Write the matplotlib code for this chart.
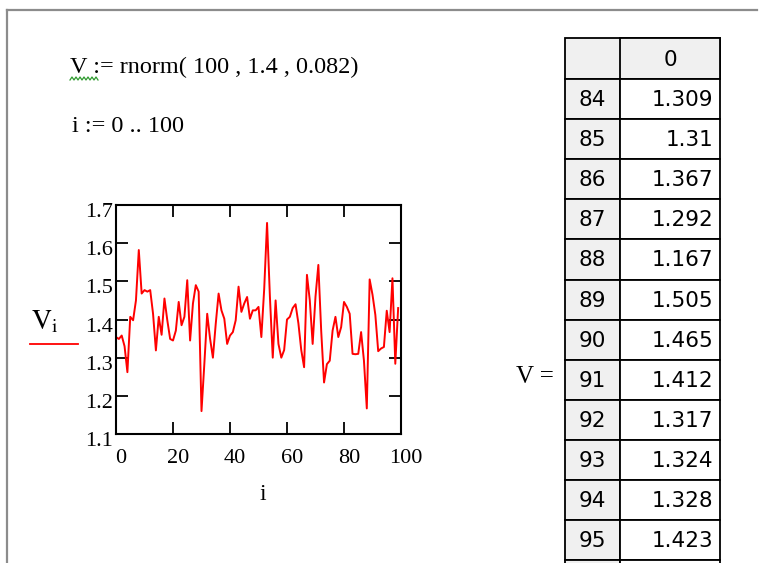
import matplotlib
matplotlib.use("Agg")
import matplotlib.pyplot as plt
import matplotlib.transforms as mtransforms
from matplotlib.patches import Rectangle

# values (rows 84..95 taken from the table)
V = [1.354, 1.349, 1.358, 1.330, 1.262, 1.407, 1.398, 1.450, 1.582, 1.468,
     1.477, 1.473, 1.477, 1.415, 1.319, 1.407, 1.360, 1.455, 1.398, 1.349,
     1.345, 1.371, 1.446, 1.385, 1.407, 1.503, 1.345, 1.442, 1.490, 1.473,
     1.160, 1.284, 1.415, 1.350, 1.300, 1.389, 1.468, 1.424, 1.402, 1.336,
     1.358, 1.367, 1.398, 1.486, 1.420, 1.442, 1.459, 1.402, 1.424, 1.424,
     1.433, 1.354, 1.480, 1.653, 1.460, 1.300, 1.450, 1.336, 1.300, 1.320,
     1.400, 1.407, 1.430, 1.440, 1.390, 1.320, 1.275, 1.517, 1.450, 1.336,
     1.460, 1.543, 1.370, 1.235, 1.283, 1.292, 1.371, 1.407, 1.354, 1.380,
     1.446, 1.433, 1.415, 1.310, 1.309, 1.310, 1.367, 1.292, 1.167, 1.505,
     1.465, 1.412, 1.317, 1.324, 1.328, 1.423, 1.367, 1.508, 1.284, 1.430]
idx = list(range(len(V)))

x_ticks = [0, 20, 40, 60, 80, 100]
y_ticks = [1.1, 1.2, 1.3, 1.4, 1.5, 1.6, 1.7]
y_tick_labels = ["1.1", "1.2", "1.3", "1.4", "1.5", "1.6", "1.7"]
table_rows = list(range(84, 96))

plt.rcParams["mathtext.fontset"] = "stix"
serif = "Liberation Serif"

W, H = 764, 563
fig = plt.figure(figsize=(W / 100, H / 100), dpi=100)

# page overlay in pixel coordinates (worksheet frame, text regions, table)
page = fig.add_axes([0, 0, 1, 1], zorder=0)
page.set_xlim(0, W)
page.set_ylim(H, 0)
page.axis("off")

page.plot([7, 7], [10, H], color="#8c8c8c", lw=1.6)
page.plot([7, 757], [10, 10], color="#8c8c8c", lw=1.6)

page.text(70, 67, "V := rnorm( 100 , 1.4 , 0.082)", family=serif, fontsize=17.5,
          va="center", ha="left")
# green squiggle under V
sx = [70 + k * 2.0 for k in range(15)]
sy = [80 if k % 2 == 0 else 77 for k in range(15)]
page.plot(sx, sy, color="#2e9a2e", lw=0.9)
page.text(72, 127, "i := 0 .. 100", family=serif, fontsize=17.5, va="center", ha="left")

# y label with trace marker
page.text(45, 321, r"$\mathrm{V_i}$", fontsize=20, va="center", ha="center")
page.plot([30, 78], [344, 344], color="red", lw=1.3)

# table
page.text(535, 377, "V =", family=serif, fontsize=18, va="center", ha="center")
tx0, tx1, tx2 = 565, 620, 720
top, head_h, row_h = 38, 41, 40.1
page.add_patch(Rectangle((tx0, top), tx2 - tx0, head_h, facecolor="#f0f0f0",
                         edgecolor="black", lw=1.3))
page.add_patch(Rectangle((tx1, top), tx2 - tx1, head_h, facecolor="#f0f0f0",
                         edgecolor="black", lw=1.3))
page.text((tx1 + tx2) / 2, top + head_h / 2 + 1, "0", fontsize=15.5, va="center", ha="center")
for k, r in enumerate(table_rows + [96]):
    y0 = top + head_h + k * row_h
    page.add_patch(Rectangle((tx0, y0), tx1 - tx0, row_h, facecolor="#f0f0f0",
                             edgecolor="black", lw=1.3))
    page.add_patch(Rectangle((tx1, y0), tx2 - tx1, row_h, facecolor="white",
                             edgecolor="black", lw=1.3))
    if r in table_rows:
        val = ("%.3f" % V[r]).rstrip("0")
        page.text((tx0 + tx1) / 2, y0 + row_h / 2 + 1, str(r), fontsize=15.5,
                  va="center", ha="center")
        page.text(tx2 - 7, y0 + row_h / 2 + 1, val, fontsize=15.5,
                  va="center", ha="right")

# the x-y plot
left, right, ptop, pbot = 116, 401, 205, 434
ax = fig.add_axes([left / W, 1 - pbot / H, (right - left) / W, (pbot - ptop) / H], zorder=2)
ax.plot(idx, V, color="red", lw=1.4)
ax.set_xlim(0, 100)
ax.set_ylim(1.1, 1.7)
ax.set_xticks(x_ticks)
ax.set_yticks(y_ticks)
ax.set_yticklabels(y_tick_labels)
ax.tick_params(direction="in", length=8.5, width=1.3, top=True, right=True,
               labelsize=16)
ax.tick_params(axis="y", pad=2)
ax.tick_params(axis="x", pad=11)
xoff = mtransforms.ScaledTranslation(5 / 100, 0, fig.dpi_scale_trans)
yoff = mtransforms.ScaledTranslation(0, -5 / 100, fig.dpi_scale_trans)
for lab in ax.get_xticklabels():
    lab.set_family(serif)
    lab.set_transform(lab.get_transform() + xoff)
for lab in ax.get_yticklabels():
    lab.set_family(serif)
    lab.set_transform(lab.get_transform() + yoff)
for s in ax.spines.values():
    s.set_linewidth(1.5)
ax.set_xlabel("i", family=serif, fontsize=17)
ax.xaxis.set_label_coords(0.5 + 4 / (right - left), -(495 - pbot) / (pbot - ptop))
ax.xaxis.label.set_va("center")

fig.savefig("out.png", dpi=100)
